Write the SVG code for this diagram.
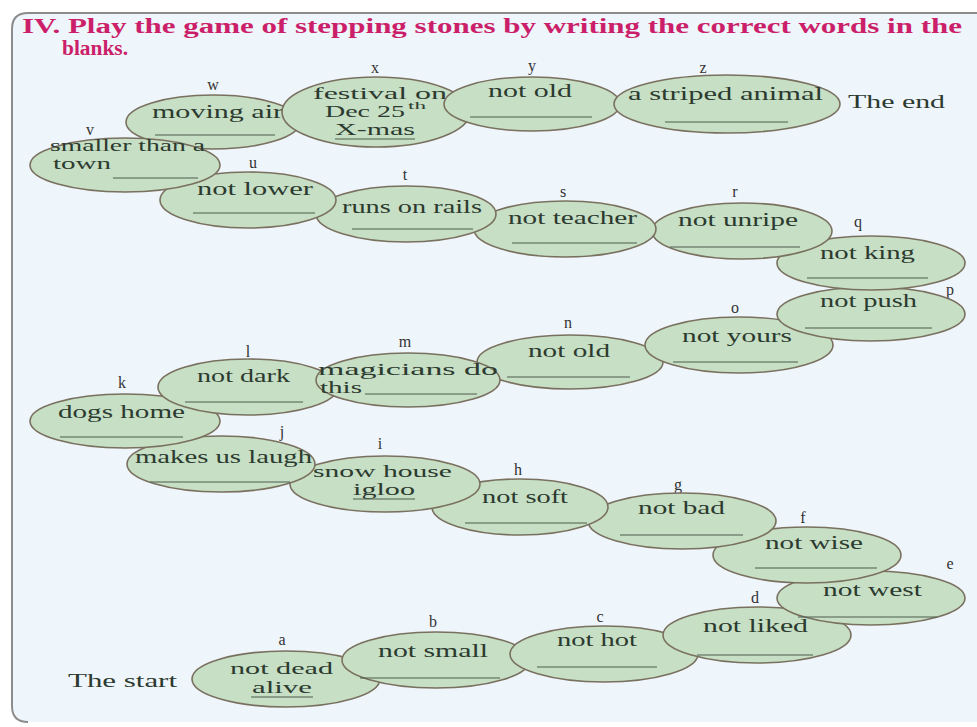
<svg xmlns="http://www.w3.org/2000/svg" width="977" height="727" viewBox="0 0 977 727">
<style>
.st{fill:#c6dfc5;stroke:#7a705f;stroke-width:1.6}
.tx{font-family:"Liberation Serif","Times New Roman",serif;font-size:19px;fill:#2c3a2f}
.sm{font-size:16px}
.lb{font-family:"Liberation Serif","Times New Roman",serif;font-size:16px;fill:#333;text-anchor:middle}
.ul{stroke:#4d5c4f;stroke-width:1.2}
.ttl{font-family:"Liberation Serif","Times New Roman",serif;font-size:20px;font-weight:bold;fill:#cc1f6a}
</style>
<rect width="977" height="727" fill="#ffffff"/>
<path d="M977 13 H28 Q12 13 12 29 V706 Q12 722 28 722 H977 V13 Z" fill="#eef5fb"/>
<path d="M977 13 H28 Q12 13 12 29 V706 Q12 722 28 722" fill="none" stroke="#8c8c8c" stroke-width="2"/>
<g id="title">
<text class="ttl" x="22" y="33" textLength="940" lengthAdjust="spacingAndGlyphs">IV. Play the game of stepping stones by writing the correct words in the</text>
<text class="ttl" x="62" y="55" textLength="66" lengthAdjust="spacingAndGlyphs">blanks.</text>
</g>
<g id="connectors"/>
<g id="start"><text class="tx" x="68" y="687" textLength="109" lengthAdjust="spacingAndGlyphs">The start</text></g>
<g id="end"><text class="tx" x="848" y="108" textLength="97" lengthAdjust="spacingAndGlyphs">The end</text></g>

<g id="stone-a"><text class="lb" x="282" y="645">a</text><ellipse class="st" cx="286" cy="679" rx="94" ry="28"/><text class="tx sm" x="230" y="674" textLength="103" lengthAdjust="spacingAndGlyphs">not dead</text><text class="tx sm" x="252" y="693" textLength="60" lengthAdjust="spacingAndGlyphs">alive</text><line class="ul" x1="251" y1="697" x2="313" y2="697"/></g>
<g id="stone-b"><text class="lb" x="433" y="627">b</text><ellipse class="st" cx="436" cy="660" rx="94" ry="28"/><text class="tx" x="378" y="657" textLength="110" lengthAdjust="spacingAndGlyphs">not small</text><line class="ul" x1="360" y1="678" x2="500" y2="678"/></g>
<g id="stone-c"><text class="lb" x="600" y="622">c</text><ellipse class="st" cx="604" cy="654" rx="94" ry="28"/><text class="tx" x="557" y="646" textLength="80" lengthAdjust="spacingAndGlyphs">not hot</text><line class="ul" x1="537" y1="667" x2="657" y2="667"/></g>
<g id="stone-d"><text class="lb" x="755" y="603">d</text><ellipse class="st" cx="757" cy="635" rx="94" ry="28"/><text class="tx" x="703" y="632" textLength="105" lengthAdjust="spacingAndGlyphs">not liked</text><line class="ul" x1="697" y1="655" x2="813" y2="655"/></g>
<g id="stone-e"><text class="lb" x="950" y="569">e</text><ellipse class="st" cx="871" cy="598" rx="94" ry="27"/><text class="tx" x="823" y="596" textLength="99" lengthAdjust="spacingAndGlyphs">not west</text><line class="ul" x1="798" y1="617" x2="937" y2="617"/></g>
<g id="stone-f"><text class="lb" x="803" y="523">f</text><ellipse class="st" cx="807" cy="555" rx="94" ry="28"/><text class="tx" x="765" y="549" textLength="98" lengthAdjust="spacingAndGlyphs">not wise</text><line class="ul" x1="755" y1="568" x2="877" y2="568"/></g>
<g id="stone-g"><text class="lb" x="678" y="490">g</text><ellipse class="st" cx="682" cy="521" rx="94" ry="28"/><text class="tx" x="638" y="514" textLength="87" lengthAdjust="spacingAndGlyphs">not bad</text><line class="ul" x1="620" y1="535" x2="743" y2="535"/></g>
<g id="stone-h"><text class="lb" x="518" y="475">h</text><ellipse class="st" cx="520" cy="507" rx="88" ry="28"/><text class="tx" x="482" y="503" textLength="86" lengthAdjust="spacingAndGlyphs">not soft</text><line class="ul" x1="465" y1="523" x2="587" y2="523"/></g>
<g id="stone-i"><text class="lb" x="380" y="449">i</text><ellipse class="st" cx="385" cy="484" rx="95" ry="28"/><text class="tx sm" x="313" y="477" textLength="139" lengthAdjust="spacingAndGlyphs">snow house</text><text class="tx sm" x="353" y="495" textLength="62" lengthAdjust="spacingAndGlyphs">igloo</text><line class="ul" x1="353" y1="499" x2="415" y2="499"/></g>
<g id="stone-j"><text class="lb" x="282" y="437">j</text><ellipse class="st" cx="221" cy="464" rx="94" ry="28"/><text class="tx" x="135" y="463" textLength="177" lengthAdjust="spacingAndGlyphs">makes us laugh</text><line class="ul" x1="150" y1="482" x2="290" y2="482"/></g>
<g id="stone-k"><text class="lb" x="122" y="388">k</text><ellipse class="st" cx="125" cy="421" rx="95" ry="27"/><text class="tx" x="58" y="418" textLength="127" lengthAdjust="spacingAndGlyphs">dogs home</text><line class="ul" x1="60" y1="437" x2="183" y2="437"/></g>
<g id="stone-l"><text class="lb" x="248" y="357">l</text><ellipse class="st" cx="248" cy="387" rx="90" ry="28"/><text class="tx" x="197" y="382" textLength="93" lengthAdjust="spacingAndGlyphs">not dark</text><line class="ul" x1="185" y1="402" x2="303" y2="402"/></g>
<g id="stone-n"><text class="lb" x="568" y="328">n</text><ellipse class="st" cx="570" cy="362" rx="93" ry="27"/><text class="tx" x="528" y="357" textLength="82" lengthAdjust="spacingAndGlyphs">not old</text><line class="ul" x1="507" y1="377" x2="630" y2="377"/></g>
<g id="stone-m"><text class="lb" x="405" y="347">m</text><ellipse class="st" cx="408" cy="380" rx="92" ry="27"/><text class="tx sm" x="318" y="375" textLength="180" lengthAdjust="spacingAndGlyphs">magicians do</text><text class="tx sm" x="320" y="393" textLength="42" lengthAdjust="spacingAndGlyphs">this</text><line class="ul" x1="365" y1="394" x2="477" y2="394"/></g>
<g id="stone-o"><text class="lb" x="735" y="313">o</text><ellipse class="st" cx="739" cy="345" rx="94" ry="28"/><text class="tx" x="682" y="342" textLength="110" lengthAdjust="spacingAndGlyphs">not yours</text><line class="ul" x1="673" y1="362" x2="798" y2="362"/></g>
<g id="stone-p"><text class="lb" x="950" y="295">p</text><ellipse class="st" cx="871" cy="314" rx="94" ry="27"/><text class="tx" x="820" y="307" textLength="97" lengthAdjust="spacingAndGlyphs">not push</text><line class="ul" x1="805" y1="328" x2="932" y2="328"/></g>
<g id="stone-q"><text class="lb" x="858" y="227">q</text><ellipse class="st" cx="871" cy="263" rx="94" ry="27"/><text class="tx" x="820" y="259" textLength="95" lengthAdjust="spacingAndGlyphs">not king</text><line class="ul" x1="807" y1="278" x2="928" y2="278"/></g>
<g id="stone-r"><text class="lb" x="735" y="197">r</text><ellipse class="st" cx="742" cy="231" rx="90" ry="28"/><text class="tx" x="678" y="226" textLength="120" lengthAdjust="spacingAndGlyphs">not unripe</text><line class="ul" x1="670" y1="247" x2="800" y2="247"/></g>
<g id="stone-s"><text class="lb" x="563" y="197">s</text><ellipse class="st" cx="565" cy="229" rx="91" ry="28"/><text class="tx" x="508" y="224" textLength="129" lengthAdjust="spacingAndGlyphs">not teacher</text><line class="ul" x1="512" y1="243" x2="637" y2="243"/></g>
<g id="stone-t"><text class="lb" x="405" y="180">t</text><ellipse class="st" cx="406" cy="214" rx="90" ry="28"/><text class="tx" x="342" y="213" textLength="140" lengthAdjust="spacingAndGlyphs">runs on rails</text><line class="ul" x1="352" y1="229" x2="473" y2="229"/></g>
<g id="stone-u"><text class="lb" x="253" y="168">u</text><ellipse class="st" cx="248" cy="200" rx="88" ry="28"/><text class="tx" x="197" y="195" textLength="116" lengthAdjust="spacingAndGlyphs">not lower</text><line class="ul" x1="193" y1="213" x2="315" y2="213"/></g>
<g id="stone-w"><text class="lb" x="213" y="90">w</text><ellipse class="st" cx="213" cy="122" rx="87" ry="27"/><text class="tx" x="152" y="118" textLength="131" lengthAdjust="spacingAndGlyphs">moving air</text><line class="ul" x1="155" y1="135" x2="275" y2="135"/></g>
<g id="stone-v"><text class="lb" x="90" y="135">v</text><ellipse class="st" cx="125" cy="165" rx="95" ry="27"/><text class="tx sm" x="50" y="151" textLength="155" lengthAdjust="spacingAndGlyphs">smaller than a</text><text class="tx sm" x="53" y="169" textLength="58" lengthAdjust="spacingAndGlyphs">town</text><line class="ul" x1="113" y1="178" x2="198" y2="178"/></g>
<g id="stone-x"><text class="lb" x="375" y="73">x</text><ellipse class="st" cx="376" cy="112" rx="94" ry="35"/><text class="tx sm" x="313" y="99" textLength="134" lengthAdjust="spacingAndGlyphs">festival on</text><text class="tx sm" x="325" y="117" textLength="80" lengthAdjust="spacingAndGlyphs">Dec 25</text><text class="tx" x="408" y="109" style="font-size:10px" textLength="18" lengthAdjust="spacingAndGlyphs">th</text><text class="tx sm" x="335" y="135" textLength="80" lengthAdjust="spacingAndGlyphs">X-mas</text><line class="ul" x1="335" y1="139" x2="415" y2="139"/></g>
<g id="stone-y"><text class="lb" x="532" y="71">y</text><ellipse class="st" cx="532" cy="104" rx="88" ry="27"/><text class="tx" x="488" y="97" textLength="84" lengthAdjust="spacingAndGlyphs">not old</text><line class="ul" x1="470" y1="117" x2="592" y2="117"/></g>
<g id="stone-z"><text class="lb" x="703" y="73">z</text><ellipse class="st" cx="727" cy="104" rx="113" ry="29"/><text class="tx" x="628" y="100" textLength="195" lengthAdjust="spacingAndGlyphs">a striped animal</text><line class="ul" x1="665" y1="122" x2="788" y2="122"/></g>
</svg>
